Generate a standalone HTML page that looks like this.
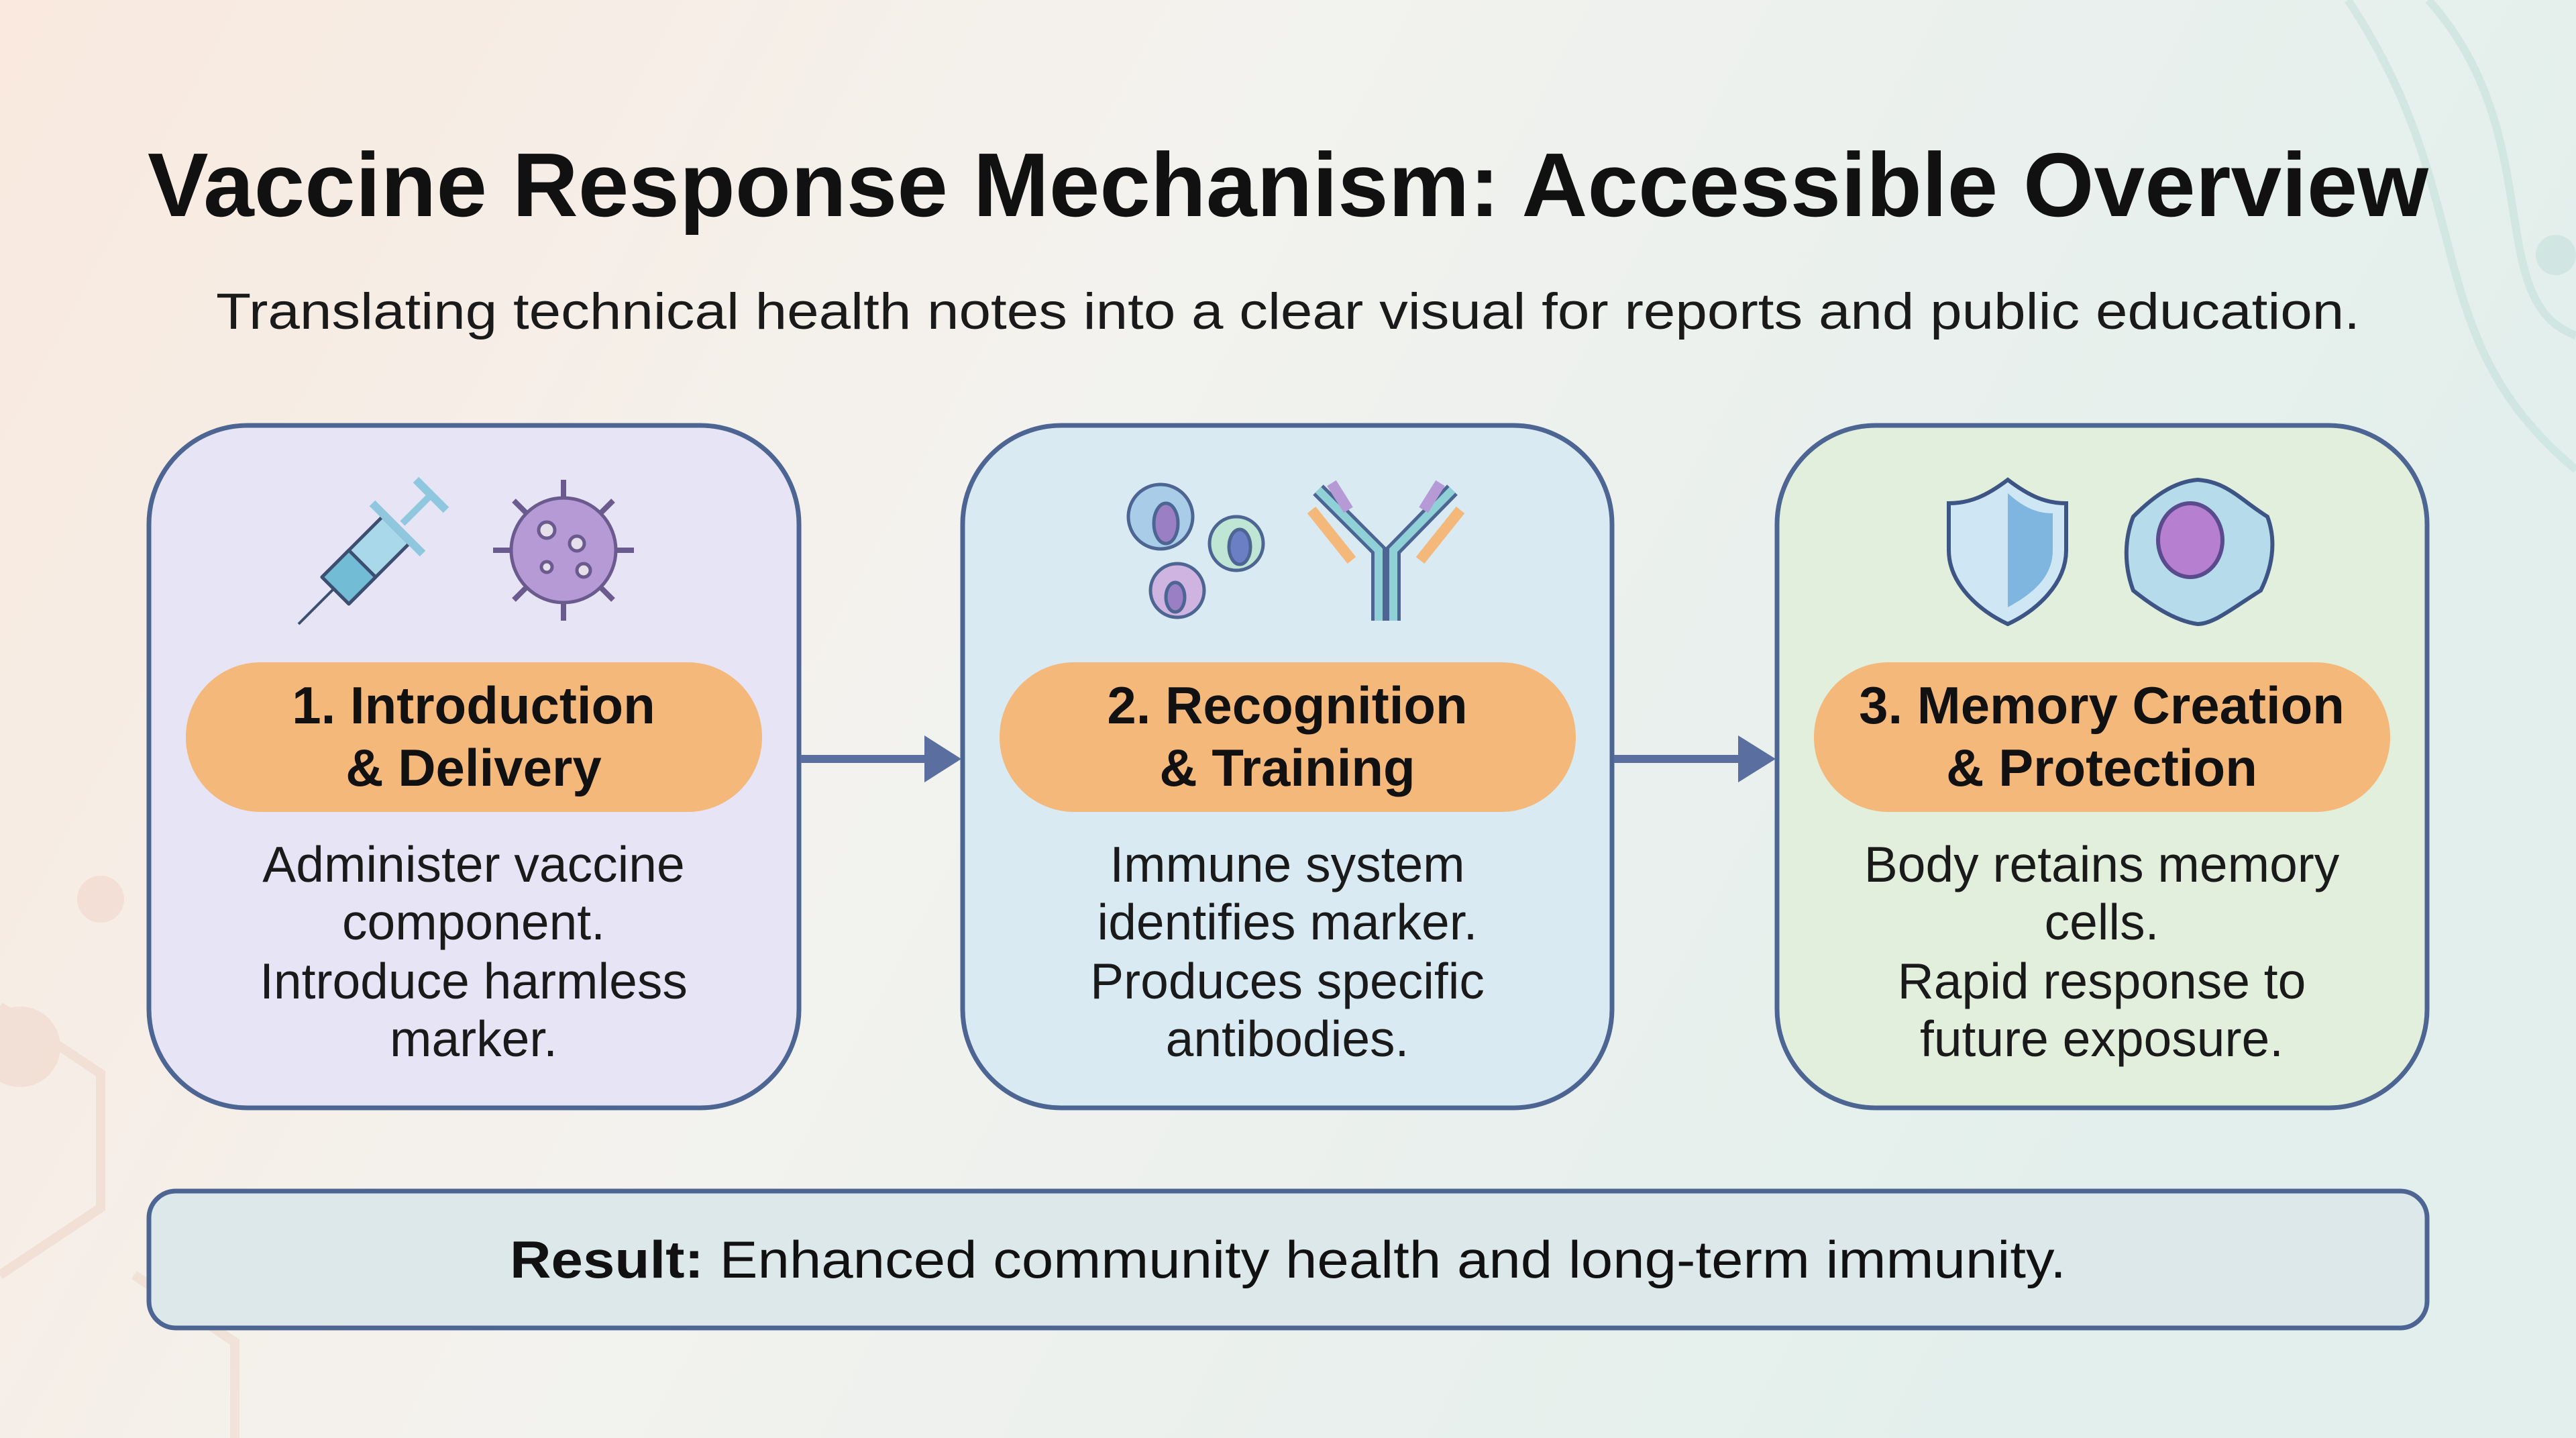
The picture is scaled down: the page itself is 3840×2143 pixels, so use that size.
<!DOCTYPE html>
<html><head><meta charset="utf-8"><style>
html,body{margin:0;padding:0;width:3840px;height:2143px;overflow:hidden}
svg{display:block}
text{font-family:"Liberation Sans",sans-serif}
</style></head><body>
<svg width="3840" height="2143" viewBox="0 0 3840 2143" xmlns="http://www.w3.org/2000/svg">
<defs>
<linearGradient id="bg" x1="0" y1="0" x2="1" y2="0.3">
<stop offset="0" stop-color="#f9e9de"/><stop offset="0.45" stop-color="#f3f2ee"/><stop offset="1" stop-color="#e2efec"/>
</linearGradient>
</defs>
<rect width="3840" height="2143" fill="url(#bg)"/>
<g opacity="0.25" fill="none" stroke="#e6b9a6" stroke-width="14">
<path d="M0 1500 L150 1600 L150 1800 L0 1900"/><path d="M200 1900 L350 2000 L350 2143"/>
<circle cx="30" cy="1560" r="60" fill="#eab9a6" stroke="none"/><circle cx="150" cy="1340" r="35" fill="#eab9a6" stroke="none"/>
</g>
<g opacity="0.3" fill="none" stroke="#a9d3cc" stroke-width="12">
<path d="M3500 0 C3700 300 3600 500 3840 700"/><path d="M3620 0 C3800 200 3700 450 3840 500"/>
<circle cx="3810" cy="380" r="30" fill="#a9d3cc" stroke="none"/>
</g>

<text x="1920" y="322" text-anchor="middle" font-size="135" font-weight="bold" fill="#111" textLength="3400" lengthAdjust="spacingAndGlyphs">Vaccine Response Mechanism: Accessible Overview</text>
<text x="1920" y="490" text-anchor="middle" font-size="76" fill="#1a1a1a" textLength="3196" lengthAdjust="spacingAndGlyphs">Translating technical health notes into a clear visual for reports and public education.</text>

<rect x="222" y="634" width="969" height="1017" rx="147" fill="#e6e4f5" stroke="#4d6592" stroke-width="7"/>
<rect x="1435" y="634" width="968" height="1017" rx="147" fill="#d9eaf3" stroke="#4d6592" stroke-width="7"/>
<rect x="2649" y="634" width="969" height="1017" rx="147" fill="#e1efdc" stroke="#4d6592" stroke-width="7"/>

<rect x="277" y="987" width="859" height="223" rx="111" fill="#f4b87a"/>
<rect x="1490" y="987" width="859" height="223" rx="111" fill="#f4b87a"/>
<rect x="2704" y="987" width="859" height="223" rx="111" fill="#f4b87a"/>
<g font-size="78" font-weight="bold" fill="#111" text-anchor="middle">
<text x="706" y="1078">1. Introduction</text><text x="706" y="1171">&amp; Delivery</text>
<text x="1919" y="1078">2. Recognition</text><text x="1919" y="1171">&amp; Training</text>
<text x="3133" y="1078">3. Memory Creation</text><text x="3133" y="1171">&amp; Protection</text>
</g>
<g font-size="75" fill="#1a1a1a" text-anchor="middle">
<text x="706" y="1314">Administer vaccine</text><text x="706" y="1400">component.</text><text x="706" y="1488">Introduce harmless</text><text x="706" y="1574">marker.</text>
<text x="1919" y="1314">Immune system</text><text x="1919" y="1400">identifies marker.</text><text x="1919" y="1488">Produces specific</text><text x="1919" y="1574">antibodies.</text>
<text x="3133" y="1314">Body retains memory</text><text x="3133" y="1400">cells.</text><text x="3133" y="1488">Rapid response to</text><text x="3133" y="1574">future exposure.</text>
</g>

<g fill="#5a6fa0">
<rect x="1193" y="1125" width="190" height="12"/><polygon points="1378,1096 1433,1131 1378,1166"/>
<rect x="2406" y="1125" width="190" height="12"/><polygon points="2591,1096 2647,1131 2591,1166"/>
</g>

<g stroke="#3d4f70" stroke-width="5" stroke-linejoin="round">
<line x1="445" y1="930" x2="500" y2="875" stroke-width="4"/>
<polygon points="480,860 520,900 610,810 570,770" fill="#a9d8ea"/>
<polygon points="480,860 520,900 560,860 520,820" fill="#72bcd6"/>
<line x1="555" y1="750" x2="630" y2="825" stroke-width="12" stroke="#8fc7de"/>
<line x1="600" y1="780" x2="640" y2="740" stroke-width="10" stroke="#8fc7de"/>
<line x1="620" y1="715" x2="665" y2="760" stroke-width="12" stroke="#8fc7de"/>
</g>
<g stroke="#6a5a8e" stroke-width="5" fill="#b69ad6">
<g stroke-width="8"><line x1="840" y1="715" x2="840" y2="925"/><line x1="735" y1="820" x2="945" y2="820"/><line x1="766" y1="746" x2="914" y2="894"/><line x1="914" y1="746" x2="766" y2="894"/></g>
<circle cx="840" cy="820" r="78"/>
<circle cx="815" cy="790" r="12" fill="#e6e0ea"/><circle cx="860" cy="810" r="11" fill="#e6e0ea"/><circle cx="870" cy="850" r="10" fill="#e6e0ea"/><circle cx="815" cy="845" r="8" fill="#e6e0ea"/>
</g>

<g stroke="#4d6592" stroke-width="5">
<circle cx="1730" cy="770" r="48" fill="#a9cde8"/><ellipse cx="1738" cy="780" rx="18" ry="30" fill="#9b7fc4"/>
<circle cx="1755" cy="880" r="40" fill="#cfb3e0"/><ellipse cx="1752" cy="890" rx="14" ry="22" fill="#9b7fc4"/>
<circle cx="1843" cy="810" r="40" fill="#bfe5d5"/><ellipse cx="1848" cy="815" rx="16" ry="26" fill="#6b7fc4"/>
<path d="M2055 925 V820 L1965 730" fill="none" stroke="#4d6592" stroke-width="22"/><path d="M2055 925 V820 L1965 730" fill="none" stroke="#8fd1d6" stroke-width="12"/>
<path d="M2077 925 V820 L2165 730" fill="none" stroke="#4d6592" stroke-width="22"/><path d="M2077 925 V820 L2165 730" fill="none" stroke="#8fd1d6" stroke-width="12"/>
<line x1="1955" y1="760" x2="2015" y2="835" stroke="#f4b87a" stroke-width="16"/>
<line x1="2177" y1="760" x2="2117" y2="835" stroke="#f4b87a" stroke-width="16"/>
<line x1="1985" y1="720" x2="2010" y2="760" stroke="#b69ad6" stroke-width="16"/>
<line x1="2147" y1="720" x2="2122" y2="760" stroke="#b69ad6" stroke-width="16"/>
</g>

<g stroke="#3d5585" stroke-width="6">
<path d="M2993 715 C2960 740 2935 750 2905 750 V820 C2905 870 2950 910 2993 930 C3036 910 3080 870 3080 820 V750 C3050 750 3026 740 2993 715 Z" fill="#cfe6f4"/>
<path d="M2993 735 V905 C3030 885 3060 860 3060 820 V765 C3035 765 3015 755 2993 735 Z" fill="#7fb6e0" stroke="none"/>
<path d="M3276 715 C3320 718 3340 745 3380 770 C3395 810 3385 850 3370 880 C3330 905 3300 930 3276 930 C3240 925 3205 900 3180 880 C3165 840 3168 800 3180 770 C3210 740 3240 718 3276 715 Z" fill="#b6dcec"/>
<ellipse cx="3265" cy="805" rx="48" ry="55" fill="#b77fcf" stroke="#5a4a8e"/>
</g>

<rect x="222" y="1775" width="3396" height="204" rx="40" fill="#dde8ea" stroke="#4d6592" stroke-width="7"/>
<text x="1920" y="1904" text-anchor="middle" font-size="78" fill="#111" textLength="2320" lengthAdjust="spacingAndGlyphs"><tspan font-weight="bold">Result:</tspan> Enhanced community health and long-term immunity.</text>
</svg>
</body></html>
